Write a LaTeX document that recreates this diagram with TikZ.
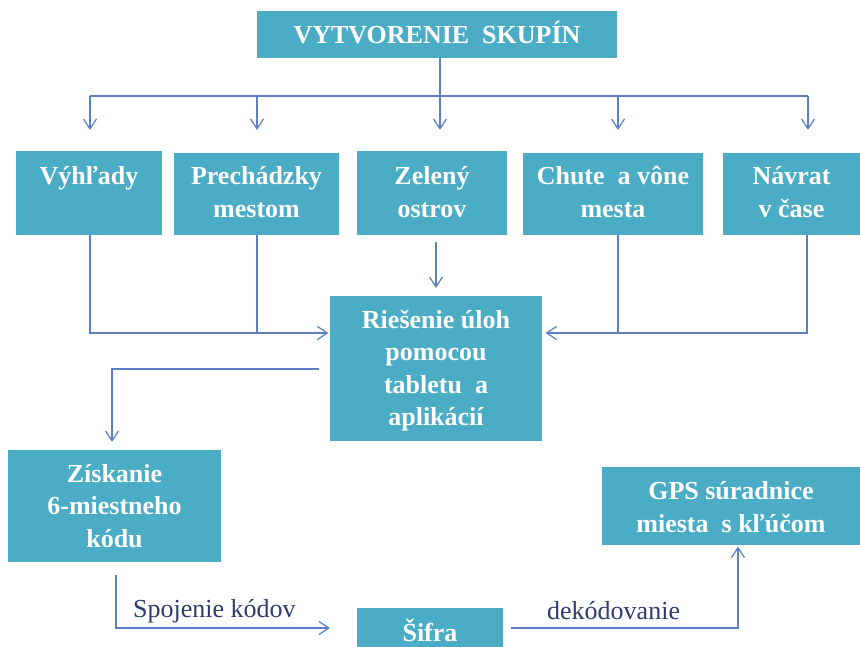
\documentclass[tikz,border=0pt]{standalone}
\usepackage{fontspec}
\setmainfont{Liberation Serif}
\usetikzlibrary{arrows.meta}
\definecolor{boxfill}{HTML}{4BACC6}
\definecolor{linec}{HTML}{5B7FC1}
\definecolor{labc}{HTML}{2F3B6E}
\tikzset{
  boxshape/.style={fill=boxfill, draw=none, inner sep=0pt, outer sep=0pt, anchor=north west},
  boxtext/.style={text=white, font=\bfseries\fontsize{26}{32.5}\selectfont, align=center, inner sep=0pt, anchor=north},
  conn/.style={draw=linec, line width=1.2pt},
  arr/.style={conn, -{Straight Barb[length=10pt,width=13pt,line width=1.2pt]}},
  edgelabel/.style={text=labc, font=\fontsize{26}{30}\selectfont, inner sep=0pt, anchor=base west},
}
\begin{document}
\begin{tikzpicture}[x=1pt,y=-1pt]
\useasboundingbox (0,0) rectangle (860,647);
\clip (0,0) rectangle (860,647);
\fill[white] (0,0) rectangle (860,647);

% boxes
\node[boxshape, minimum width=360pt, minimum height=47pt] (vyt) at (257,11) {};
\node[boxshape, minimum width=146pt, minimum height=84pt] (vyh) at (16,151) {};
\node[boxshape, minimum width=165pt, minimum height=82pt] (pre) at (174,153) {};
\node[boxshape, minimum width=150pt, minimum height=84pt] (zel) at (357,151) {};
\node[boxshape, minimum width=180pt, minimum height=82pt] (chu) at (523,153) {};
\node[boxshape, minimum width=137pt, minimum height=82pt] (nav) at (723,153) {};
\node[boxshape, minimum width=212pt, minimum height=145pt] (rie) at (330,296) {};
\node[boxshape, minimum width=213pt, minimum height=112pt] (zis) at (8,450) {};
\node[boxshape, minimum width=258pt, minimum height=78pt] (gps) at (602,467) {};
\node[boxshape, minimum width=146pt, minimum height=60pt] (sif) at (357,608) {};

% box texts
\node[boxtext] (vyt-t) at ([yshift=-9.5pt]vyt.north) {\strut VYTVORENIE\ \ SKUPÍN};
\node[boxtext] (vyh-t) at ([yshift=-11pt]vyh.north) {\strut Výhľady};
\node[boxtext] (pre-t) at ([yshift=-9pt]pre.north) {\strut Prechádzky\\mestom};
\node[boxtext] (zel-t) at ([yshift=-11pt]zel.north) {\strut Zelený\\ostrov};
\node[boxtext] (chu-t) at ([yshift=-9pt]chu.north) {\strut Chute\ \ a vône\\mesta};
\node[boxtext] (nav-t) at ([yshift=-9pt]nav.north) {\strut Návrat\\v čase};
\node[boxtext] (rie-t) at ([yshift=-9.5pt]rie.north) {\strut Riešenie úloh\\pomocou\\tabletu\ \ a\\aplikácií};
\node[boxtext] (zis-t) at ([yshift=-9.5pt]zis.north) {\strut Získanie\\6-miestneho\\kódu};
\node[boxtext] (gps-t) at ([yshift=-10pt]gps.north) {\strut GPS súradnice\\miesta\ \ s kľúčom};
\node[boxtext] (sif-t) at ([yshift=-11pt]sif.north) {\strut Šifra};

% top distribution
\coordinate (b1) at (90,96);
\coordinate (b2) at (257,96);
\coordinate (b4) at (618,96);
\coordinate (b5) at (808,96);
\coordinate (a1) at (90,130);
\coordinate (a2) at (257,130);
\coordinate (a3) at (440,130);
\coordinate (a4) at (618,130);
\coordinate (a5) at (808,130);
\draw[conn] (b1) -- (b5);
\draw[arr] (b1) -- (a1);
\draw[arr] (b2) -- (a2);
\draw[arr] (vyt.south -| a3) -- (a3);
\draw[arr] (b4) -- (a4);
\draw[arr] (b5) -- (a5);

% into Riesenie
\coordinate (jl) at (90,333);
\coordinate (jr) at (807,333);
\coordinate (zs) at (436,242);
\draw[arr, shorten >=1.5pt] (vyh.south -| jl) -- (jl) -- (jl -| rie.west);
\draw[conn] (pre.south -| b2) -- (b2 |- jl);
\draw[arr, shorten >=8pt] (zs) -- (zs |- rie.north);
\draw[arr, shorten >=3.5pt] (nav.south -| jr) -- (jr) -- (jr -| rie.east);
\draw[conn] (chu.south -| b4) -- (b4 |- jr);

% Riesenie -> Ziskanie
\coordinate (r1) at (319,369);
\coordinate (r2) at (112,369);
\draw[arr, shorten >=8pt] (r1) -- (r2) -- (r2 |- zis.north);

% Ziskanie -> Sifra
\coordinate (s1) at (116,575);
\coordinate (s2) at (116,628);
\coordinate (s3) at (330,628);
\draw[arr] (s1) -- (s2) -- (s3);
\node[edgelabel] (lab1) at (133,617) {Spojenie kódov};

% Sifra -> GPS
\coordinate (g1) at (511,628);
\coordinate (g2) at (738,628);
\draw[arr, shorten >=1.5pt] (g1) -- (g2) -- (g2 |- gps.south);
\node[edgelabel] (lab2) at (547,619) {dekódovanie};
\end{tikzpicture}
\end{document}
